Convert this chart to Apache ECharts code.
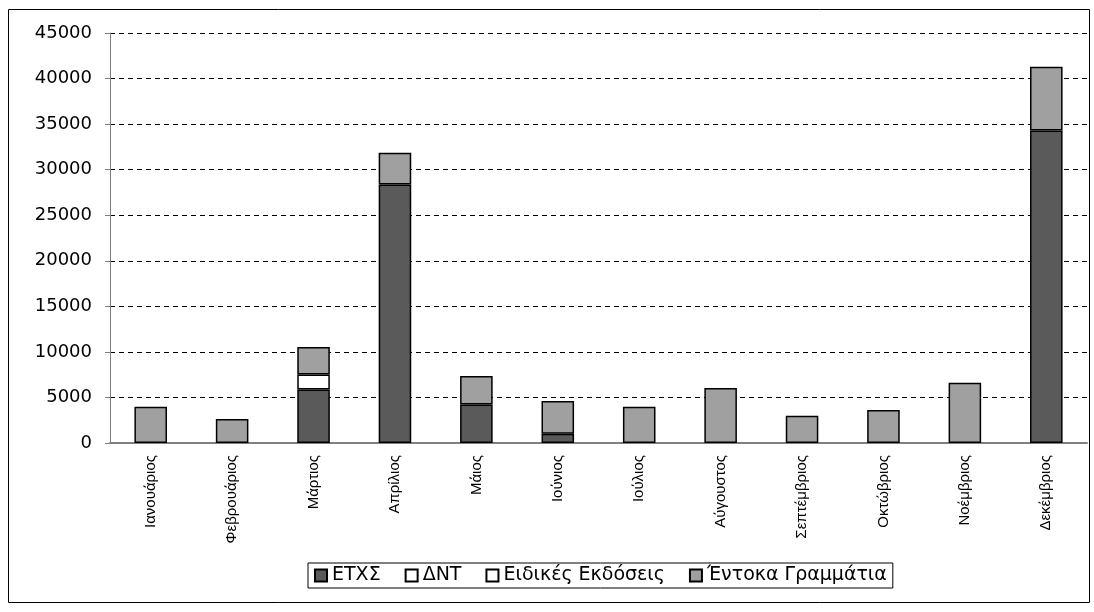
<!DOCTYPE html>
<html>
<head>
<meta charset="utf-8">
<script src="https://cdn.jsdelivr.net/npm/echarts@6/dist/echarts.min.js"></script>
<style>
html,body{margin:0;padding:0;background:#fff;}
#main{width:1094px;height:612px;}
</style>
</head>
<body>
<div id="main"></div>
<script>
const categories = ['Ιανουάριος','Φεβρουάριος','Μάρτιος','Απρίλιος','Μάιος','Ιούνιος','Ιούλιος','Αύγουστος','Σεπτέμβριος','Οκτώβριος','Νοέμβριος','Δεκέμβριος'];
const etxs    = [0, 0, 5880, 28360, 4230, 1020, 0, 0, 0, 0, 0, 34300];
const dnt     = [0, 0, 1640, 0, 0, 0, 0, 0, 0, 0, 0, 0];
const eidikes = [0, 0, 0, 0, 0, 0, 0, 0, 0, 0, 0, 0];
const entoka  = [3970, 2630, 3020, 3490, 3130, 3580, 3970, 6050, 2990, 3610, 6600, 7000];
const yTicks  = [0, 5000, 10000, 15000, 20000, 25000, 30000, 35000, 40000, 45000];

const chart = echarts.init(document.getElementById('main'), null, {renderer:'canvas'});
const FONT = 'DejaVu Sans';
function bar(name, data, color){
  return {
    name: name, type: 'bar', stack: 'total',
    data: data.map(v => v === 0 ? {value: 0, itemStyle: {borderWidth: 0}} : v),
    barWidth: '40%',
    itemStyle: {color: color, borderColor: '#000', borderWidth: 1.5},
    emphasis: {disabled: true}
  };
}
chart.setOption({
  animation: false,
  backgroundColor: '#fff',
  graphic: [{
    type: 'rect', shape: {x: 8.5, y: 9.5, width: 1081, height: 593},
    style: {fill: 'none', stroke: '#000', lineWidth: 1}, silent: true, z: -1
  }],
  grid: {left: 110, top: 33, right: 7, bottom: 169, containLabel: false},
  legend: {
    left: 308, top: 563,
    data: ['ΕΤΧΣ','ΔΝΤ','Ειδικές Εκδόσεις','Έντοκα Γραμμάτια'],
    icon: 'rect', itemWidth: 12, itemHeight: 12, itemGap: 24,
    padding: [3, 6, 3, 6],
    borderColor: '#000', borderWidth: 1,
    textStyle: {fontFamily: FONT, fontSize: 19, color: '#000', padding: [0,0,0,0]}
  },
  xAxis: {
    type: 'category', data: categories,
    axisLine: {lineStyle: {color: '#808080', width: 2}},
    axisTick: {show: false},
    axisLabel: {rotate: 90, margin: 12, color: '#000', fontFamily: 'Liberation Sans', fontSize: 15, interval: 0}
  },
  yAxis: {
    type: 'value', min: yTicks[0], max: yTicks[yTicks.length-1], interval: 5000,
    axisLine: {show: true, lineStyle: {color: '#808080', width: 1}},
    axisTick: {show: true, length: 5, lineStyle: {color: '#808080'}},
    axisLabel: {margin: 18, color: '#000', fontFamily: FONT, fontSize: 18, formatter: v => String(v)},
    splitLine: {lineStyle: {color: '#000', type: [5, 4], width: 1}}
  },
  series: [
    bar('ΕΤΧΣ', etxs, '#5a5a5a'),
    bar('ΔΝΤ', dnt, '#ffffff'),
    bar('Ειδικές Εκδόσεις', eidikes, '#ffffff'),
    bar('Έντοκα Γραμμάτια', entoka, '#a0a0a0')
  ]
});
</script>
</body>
</html>
